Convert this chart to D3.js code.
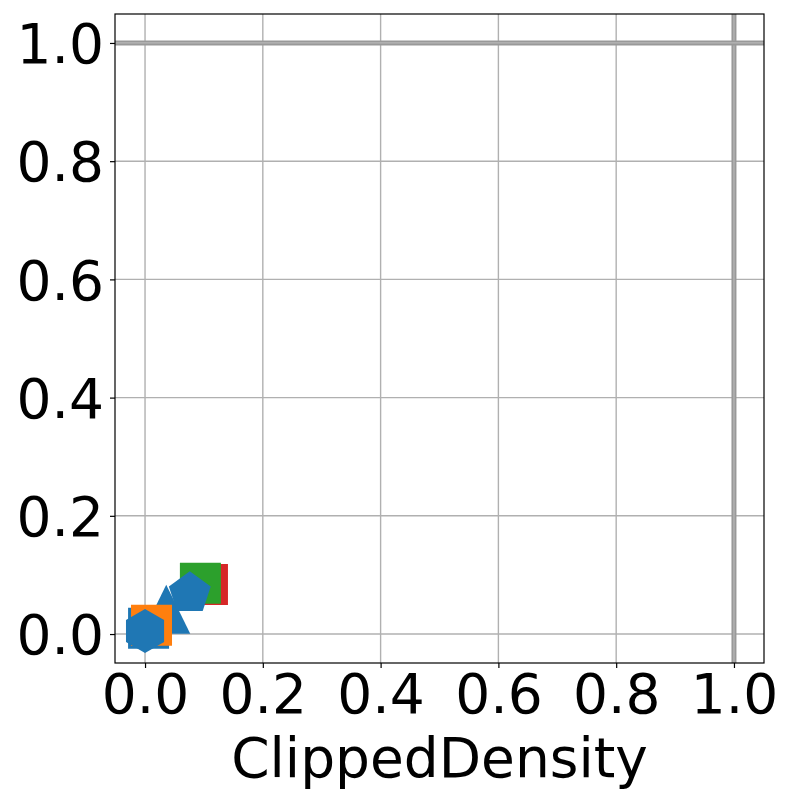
<!DOCTYPE html>
<html><head><meta charset="utf-8">
<script src="https://cdn.jsdelivr.net/npm/d3@7"></script>
<style>body{margin:0;background:#fff}</style>
</head><body>
<script>
const xLabel = "ClippedDensity";
const ticks = [0.0, 0.2, 0.4, 0.6, 0.8, 1.0];
// points: drawn in this order
const pointX = [0.106, 0.094, 0.006, 0.036, 0.011, 0.076, 0.000];
const pointY = [0.084, 0.086, 0.010, 0.041, 0.015, 0.069, 0.005];
const pointShape = ["square", "square", "square", "triangle", "square", "pentagon", "hexagon"];
const pointColor = ["#d62728", "#2ca02c", "#1f77b4", "#1f77b4", "#ff7f0e", "#1f77b4", "#1f77b4"];
const refX = [1.0];
const refY = [1.0];

const W = 792, H = 805;
const m = {l:115, r:28, t:14, b:142};
const svg = d3.select("body").append("svg").attr("width", W).attr("height", H);
const x = d3.scaleLinear().domain([-0.051, 1.051]).range([m.l, W - m.r]);
const y = d3.scaleLinear().domain([-0.049, 1.049]).range([H - m.b, m.t]);
const font = "DejaVu Sans, sans-serif";
const fs = 55;

// grid
const g = svg.append("g");
g.selectAll(".gx").data(ticks).enter().append("line")
  .attr("x1", d => x(d)).attr("x2", d => x(d)).attr("y1", m.t).attr("y2", H - m.b)
  .attr("stroke", "#b0b0b0").attr("stroke-width", 1.4);
g.selectAll(".gy").data(ticks).enter().append("line")
  .attr("y1", d => y(d)).attr("y2", d => y(d)).attr("x1", m.l).attr("x2", W - m.r)
  .attr("stroke", "#b0b0b0").attr("stroke-width", 1.4);

// reference lines
refX.forEach(v => {
  svg.append("line").attr("x1", x(v)).attr("x2", x(v)).attr("y1", m.t).attr("y2", H - m.b)
    .attr("stroke", "#999").attr("stroke-width", 5);
  svg.append("line").attr("x1", x(v)).attr("x2", x(v)).attr("y1", m.t).attr("y2", H - m.b)
    .attr("stroke", "#b8b8b8").attr("stroke-width", 1.2);
});
refY.forEach(v => {
  svg.append("line").attr("y1", y(v)).attr("y2", y(v)).attr("x1", m.l).attr("x2", W - m.r)
    .attr("stroke", "#999").attr("stroke-width", 5);
  svg.append("line").attr("y1", y(v)).attr("y2", y(v)).attr("x1", m.l).attr("x2", W - m.r)
    .attr("stroke", "#b8b8b8").attr("stroke-width", 1.2);
});

// markers
function polygon(n, r, rot) {
  const pts = [];
  for (let i = 0; i < n; i++) {
    const a = rot + i * 2 * Math.PI / n;
    pts.push([r * Math.cos(a), r * Math.sin(a)]);
  }
  return "M" + pts.map(p => p.join(",")).join("L") + "Z";
}
function shapePath(s) {
  if (s === "square") return "M-20.5,-20.5L20.5,-20.5L20.5,20.5L-20.5,20.5Z";
  if (s === "triangle") return "M0,-25L24,24L-24,24Z";
  if (s === "pentagon") return polygon(5, 22, -Math.PI / 2);
  if (s === "hexagon") return polygon(6, 22, -Math.PI / 2);
}
svg.append("clipPath").attr("id", "pc").append("rect")
  .attr("x", m.l).attr("y", m.t).attr("width", W - m.l - m.r).attr("height", H - m.t - m.b);
svg.append("g").attr("clip-path", "url(#pc)").selectAll("path").data(pointX).enter().append("path")
  .attr("transform", (d, i) => `translate(${x(pointX[i])},${y(pointY[i])})`)
  .attr("d", (d, i) => shapePath(pointShape[i]))
  .attr("fill", (d, i) => pointColor[i]);

// spines
svg.append("rect").attr("x", m.l).attr("y", m.t).attr("width", W - m.l - m.r).attr("height", H - m.t - m.b)
  .attr("fill", "none").attr("stroke", "#000").attr("stroke-width", 1.2);

// axes
const xa = svg.append("g").attr("transform", `translate(0,${H - m.b})`)
  .call(d3.axisBottom(x).tickValues(ticks).tickFormat(d3.format(".1f")).tickSize(5).tickPadding(5));
const ya = svg.append("g").attr("transform", `translate(${m.l},0)`)
  .call(d3.axisLeft(y).tickValues(ticks).tickFormat(d3.format(".1f")).tickSize(5).tickPadding(6));
[xa, ya].forEach(a => {
  a.select(".domain").remove();
  a.selectAll("line").attr("stroke", "#000").attr("stroke-width", 1.2);
  a.selectAll("text").attr("font-family", font).attr("font-size", fs).attr("fill", "#000");
});
ya.selectAll("text").attr("dy", "0.36em");
xa.selectAll("text").attr("dy", "0.72em");

svg.append("text").attr("x", (m.l + W - m.r) / 2).attr("y", 777)
  .attr("text-anchor", "middle").attr("font-family", font).attr("font-size", fs)
  .text(xLabel);
</script>
</body></html>
